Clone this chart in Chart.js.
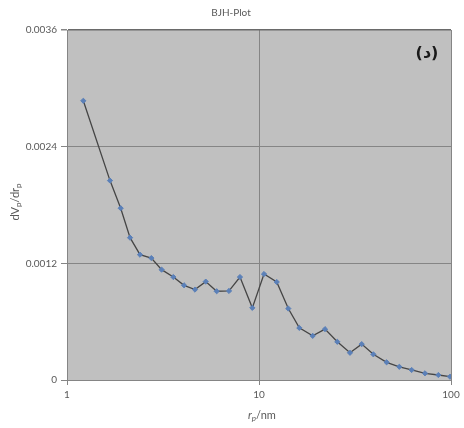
<!DOCTYPE html>
<html>
<head>
<meta charset="utf-8">
<script src="https://cdn.jsdelivr.net/npm/chart.js@4/dist/chart.umd.min.js"></script>
<style>
html,body{margin:0;padding:0;background:#fff;}
canvas{display:block;}
</style>
</head>
<body>
<canvas id="c" width="464" height="428"></canvas>
<script>
const poreRadius = [1.216, 1.675, 1.904, 2.13, 2.40, 2.75, 3.11, 3.58, 4.07, 4.64, 5.28, 6.02, 6.98, 7.96, 9.23, 10.62, 12.37, 14.21, 16.22, 19.04, 22.07, 25.58, 29.78, 34.27, 39.4, 46.2, 53.8, 62.4, 73.2, 85.9, 98.8];
const dVdr = [0.002872, 0.002051, 0.001767, 0.001464, 0.001289, 0.001254, 0.001135, 0.001059, 0.000974, 0.000930, 0.001012, 0.000913, 0.000916, 0.001059, 0.000742, 0.001090, 0.001008, 0.000735, 0.000536, 0.000454, 0.000523, 0.000393, 0.000280, 0.000369, 0.000264, 0.000182, 0.000136, 0.000103, 0.0000687, 0.0000513, 0.0000338];
const xTicks = [1, 10, 100];
const yTicks = [0, 0.0012, 0.0024, 0.0036];
const chartTitle = 'BJH-Plot';
const panelLabel = '(د)';

const FONT = "Lato, 'Liberation Sans', sans-serif";
const TXT = '#595959';

const decor = {
  id: 'decor',
  beforeDraw(chart) {
    const {ctx, chartArea: a} = chart;
    ctx.save();
    ctx.fillStyle = '#c0c0c0';
    ctx.fillRect(a.left, a.top, a.right - a.left, a.bottom - a.top);
    ctx.restore();
  },
  afterDraw(chart) {
    const {ctx, chartArea: a} = chart;
    ctx.save();
    ctx.fillStyle = TXT;
    ctx.font = '10px ' + FONT;
    ctx.textAlign = 'center';
    ctx.textBaseline = 'middle';
    ctx.fillText(chartTitle, 231, 13);
    ctx.fillStyle = '#1a1a1a';
    ctx.font = "bold 16px 'DejaVu Sans', sans-serif";
    ctx.fillText(panelLabel, 427, 54);

    function segs(parts) {
      let w = 0;
      parts.forEach(p => { ctx.font = p.f; w += ctx.measureText(p.t).width; });
      return w;
    }
    const xParts = [
      {t: 'r', f: 'italic 11px ' + FONT, dy: 0},
      {t: 'p', f: 'italic 8px ' + FONT, dy: 3},
      {t: '/nm', f: '11px ' + FONT, dy: 0}
    ];
    ctx.fillStyle = TXT;
    ctx.textAlign = 'left';
    ctx.textBaseline = 'middle';
    let w = segs(xParts);
    let x = (a.left + a.right) / 2 + 3 - w / 2;
    xParts.forEach(p => { ctx.font = p.f; ctx.fillText(p.t, x, 415 + p.dy); x += ctx.measureText(p.t).width; });

    const yParts = [
      {t: 'dV', f: '11px ' + FONT, dy: 0},
      {t: 'p', f: '8px ' + FONT, dy: 3},
      {t: '/dr', f: '11px ' + FONT, dy: 0},
      {t: 'p', f: '8px ' + FONT, dy: 3}
    ];
    ctx.translate(15, (a.top + a.bottom) / 2 - 3);
    ctx.rotate(-Math.PI / 2);
    w = segs(yParts);
    x = -w / 2;
    yParts.forEach(p => { ctx.font = p.f; ctx.fillText(p.t, x, p.dy); x += ctx.measureText(p.t).width; });
    ctx.restore();
  }
};

new Chart(document.getElementById('c'), {
  type: 'scatter',
  data: {
    datasets: [{
      data: poreRadius.map((r, i) => ({x: r, y: dVdr[i]})),
      showLine: true,
      borderColor: '#454545',
      borderWidth: 1.3,
      pointStyle: 'rectRot',
      pointRadius: 2.6,
      pointBackgroundColor: '#5b80b8',
      pointBorderColor: '#5b80b8',
      pointBorderWidth: 1,
      tension: 0
    }]
  },
  options: {
    responsive: false,
    animation: false,
    devicePixelRatio: 1,
    layout: {padding: {top: 30, right: 13, left: 0, bottom: 0}},
    plugins: {legend: {display: false}, tooltip: {enabled: false}},
    scales: {
      x: {
        type: 'logarithmic',
        min: 1, max: 100,
        afterFit(s) { s.height = 48; },
        afterBuildTicks(s) { s.ticks = xTicks.map(v => ({value: v})); },
        ticks: {
          color: TXT, font: {family: FONT, size: 10}, padding: 4,
          maxRotation: 0, autoSkip: false,
          callback: v => String(v)
        },
        grid: {color: '#858585', lineWidth: 1, tickLength: 5, tickColor: '#858585'},
        border: {display: true, color: '#858585', width: 1}
      },
      y: {
        min: 0, max: 0.0036,
        afterFit(s) { s.width = 67; },
        afterBuildTicks(s) { s.ticks = yTicks.map(v => ({value: v})); },
        ticks: {
          color: TXT, font: {family: FONT, size: 10}, padding: 4,
          callback: v => v === 0 ? '0' : v.toFixed(4)
        },
        grid: {
          color: ctx => ctx.tick && ctx.tick.value === 0.0036 ? '#6a6a6a' : '#858585',
          lineWidth: ctx => ctx.tick && ctx.tick.value === 0.0036 ? 1.5 : 1,
          tickLength: 6, tickColor: '#858585'
        },
        border: {display: true, color: '#858585', width: 1}
      }
    }
  },
  plugins: [decor]
});
</script>
</body>
</html>
